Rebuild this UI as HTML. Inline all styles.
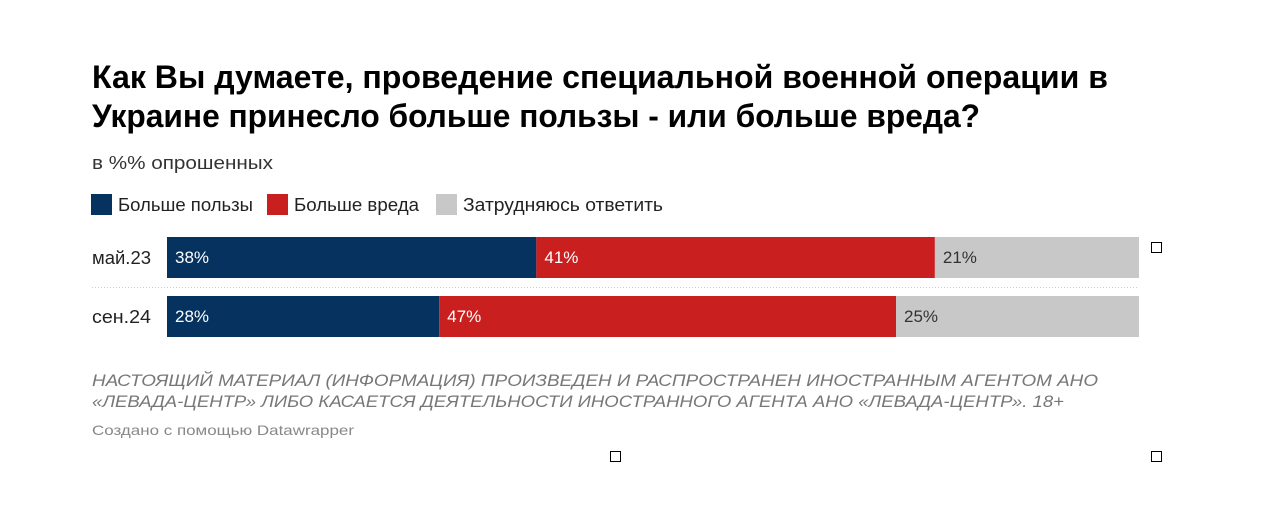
<!DOCTYPE html>
<html><head><meta charset="utf-8"><style>
html,body{margin:0;padding:0;background:#fff;width:1280px;height:506px;overflow:hidden}
svg text{font-family:"Liberation Sans","Noto Sans CJK SC",sans-serif}
</style></head><body>
<svg width="1280" height="506" xmlns="http://www.w3.org/2000/svg">
<text x="92" y="88" font-size="32" font-weight="bold" fill="#000" textLength="1016" lengthAdjust="spacingAndGlyphs">Как Вы думаете, проведение специальной военной операции в</text>
<text x="92" y="127" font-size="32" font-weight="bold" fill="#000" textLength="888" lengthAdjust="spacingAndGlyphs">Украине принесло больше пользы - или больше вреда?</text>
<text x="92" y="169" font-size="18" fill="#333" textLength="181" lengthAdjust="spacingAndGlyphs">в %% опрошенных</text>
<g font-size="18" fill="#222">
<rect x="91" y="194" width="21" height="21" fill="#05325f"/>
<text x="118" y="211" textLength="135" lengthAdjust="spacingAndGlyphs">Больше пользы</text>
<rect x="267" y="194" width="21" height="21" fill="#c91f1f"/>
<text x="294" y="211" textLength="125" lengthAdjust="spacingAndGlyphs">Больше вреда</text>
<rect x="436" y="194" width="21" height="21" fill="#c8c8c8"/>
<text x="463" y="211" textLength="200" lengthAdjust="spacingAndGlyphs">Затрудняюсь ответить</text>
</g>
<g id="bars"></g>
<line x1="92" y1="287.5" x2="1139" y2="287.5" stroke="#ccc" stroke-dasharray="1,2"/>
<text x="92" y="386" font-size="17" font-style="italic" fill="#777" textLength="1006" lengthAdjust="spacingAndGlyphs">НАСТОЯЩИЙ МАТЕРИАЛ (ИНФОРМАЦИЯ) ПРОИЗВЕДЕН И РАСПРОСТРАНЕН ИНОСТРАННЫМ АГЕНТОМ АНО</text>
<text x="92" y="407" font-size="17" font-style="italic" fill="#777" textLength="972" lengthAdjust="spacingAndGlyphs">«ЛЕВАДА-ЦЕНТР» ЛИБО КАСАЕТСЯ ДЕЯТЕЛЬНОСТИ ИНОСТРАННОГО АГЕНТА АНО «ЛЕВАДА-ЦЕНТР». 18+</text>
<text x="92" y="435" font-size="14" fill="#888" textLength="262" lengthAdjust="spacingAndGlyphs">Создано с помощью Datawrapper</text>
<rect x="1151.5" y="242.5" width="10" height="10" fill="#fff" stroke="#000"/>
<rect x="610.5" y="451.5" width="10" height="10" fill="#fff" stroke="#000"/>
<rect x="1151.5" y="451.5" width="10" height="10" fill="#fff" stroke="#000"/>
</svg>
<script>
const categories = ["май.23", "сен.24"];
const benefit = [38, 28];
const harm = [41, 47];
const unsure = [21, 25];
const seriesNames = ["benefit", "harm", "unsure"];

const x0 = 167, plotW = 972, rowY = [237, 296], barH = 41;
const colors = ["#05325f", "#c91f1f", "#c8c8c8"];
const textColors = ["#fff", "#fff", "#333"];
const xs = v => v / 100 * plotW;
const g = document.getElementById('bars');
const NS = "http://www.w3.org/2000/svg";
categories.forEach((cat, i) => {
  const lab = document.createElementNS(NS, 'text');
  
  
  lab.setAttribute('x', 92); lab.setAttribute('y', rowY[i] + 27);
  lab.setAttribute('font-size', 18); lab.setAttribute('fill', '#222');
  lab.setAttribute('textLength', 59); lab.setAttribute('lengthAdjust', 'spacingAndGlyphs');
  lab.textContent = cat; g.appendChild(lab);
  const vals = [benefit[i], harm[i], unsure[i]];
  const total = vals.reduce((a, b) => a + b, 0);
  let acc = 0;
  vals.forEach((v, k) => {
    const r = document.createElementNS(NS, 'rect');
    
    
    const xa = x0 + xs(acc / total * 100), w = xs(v / total * 100);
    r.setAttribute('x', xa); r.setAttribute('y', rowY[i]);
    r.setAttribute('width', w); r.setAttribute('height', barH);
    r.setAttribute('fill', colors[k]); g.appendChild(r);
    const t = document.createElementNS(NS, 'text');
    
    
    t.setAttribute('x', xa + 8); t.setAttribute('y', rowY[i] + 26);
    t.setAttribute('font-size', 17); t.setAttribute('fill', textColors[k]);
    t.textContent = v + '%'; g.appendChild(t);
    acc += v;
  });
});
</script>
</body></html>
